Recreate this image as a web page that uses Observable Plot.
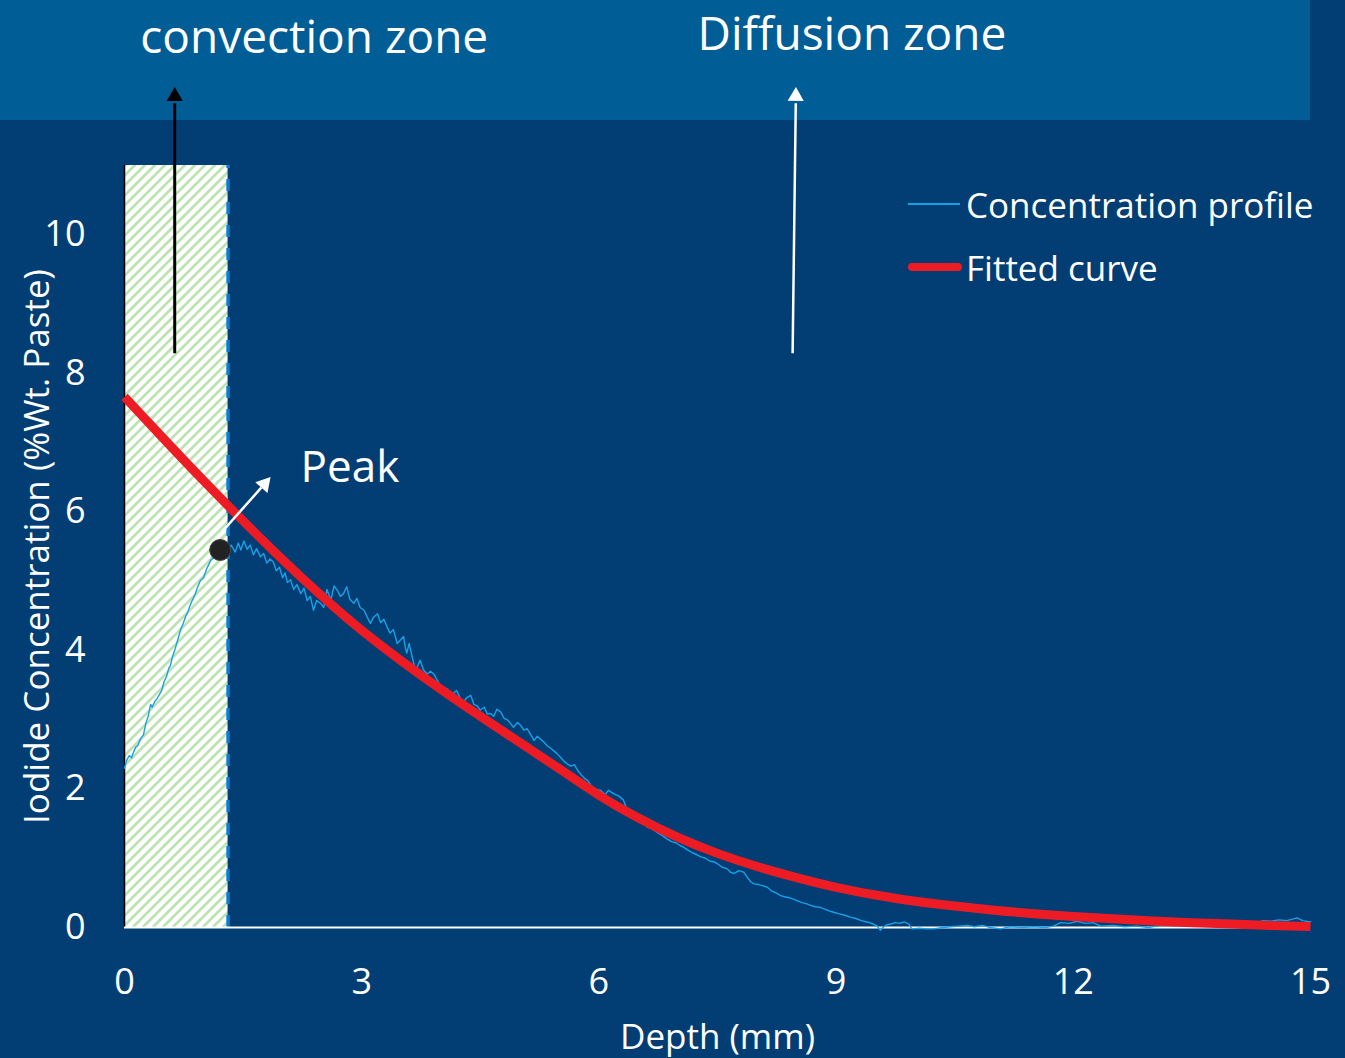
<!DOCTYPE html>
<html>
<head>
<meta charset="utf-8">
<script src="https://cdn.jsdelivr.net/npm/d3@7"></script>
<script src="https://cdn.jsdelivr.net/npm/@observablehq/plot@0.6"></script>
<style>
  html, body { margin: 0; padding: 0; background: #023e74; }
  #wrap { position: relative; width: 1345px; height: 1058px; overflow: hidden; font-family: "Open Sans", sans-serif; }
  #banner { position: absolute; left: 0; top: 0; width: 1310px; height: 120px; background: #005d96; }
  #chart { position: absolute; left: 0; top: 0; }
  .lg { position: absolute; left: 908px; height: 50px; display: flex; align-items: center; color: #fff; font-size: 35px; white-space: nowrap; }
  .sw { display: inline-block; }
  .sw.blue { width: 52px; height: 1.5px; background: #1aa0e6; margin-right: 6px; }
  .sw.red { width: 54px; height: 8px; border-radius: 4px; background: #ed1c24; margin-right: 4px; }
</style>
</head>
<body>
<div id="wrap">
  <div id="banner"></div>
  <div id="chart"></div>
  <div class="lg" style="top:179px"><span class="sw blue"></span><span>Concentration profile</span></div>
  <div class="lg" style="top:242px"><span class="sw red"></span><span>Fitted curve</span></div>
</div>
<script>
// ---------- data ----------
const xTicks = [0, 3, 6, 9, 12, 15];
const yTicks = [0, 2, 4, 6, 8, 10];

// measured concentration profile (depth mm, %wt paste)
const profileDepth = [
  0.00,0.03,0.06,0.09,0.11,0.14,0.17,0.20,0.24,0.27,0.30,0.33,0.35,0.38,0.41,0.44,0.47,0.50,0.53,0.56,
  0.58,0.61,0.64,0.66,0.68,0.71,0.74,0.77,0.80,0.83,0.86,0.89,0.92,0.96,1.00,1.04,1.09,1.13,1.17,1.21,
  1.26,1.31,1.35,1.40,1.44,1.47,1.51,1.55,1.59,1.63,1.67,1.72,1.76,1.80,1.84,1.88,1.92,1.96,2.00,2.03,
  2.06,2.10,2.14,2.18,2.23,2.27,2.31,2.35,2.39,2.43,2.48,2.52,2.56,2.61,2.65,2.69,2.73,2.77,2.81,2.85,
  2.90,2.94,2.98,3.03,3.07,3.11,3.15,3.20,3.24,3.28,3.32,3.36,3.40,3.45,3.49,3.53,3.55,3.57,3.60,3.64,
  3.68,3.71,3.74,3.78,3.83,3.87,3.91,3.95,4.00,4.04,4.08,4.12,4.16,4.20,4.25,4.29,4.33,4.38,4.42,4.46,
  4.50,4.55,4.59,4.63,4.67,4.71,4.76,4.80,4.84,4.88,4.92,4.97,5.01,5.05,5.09,5.14,5.18,5.22,5.26,5.30,
  5.35,5.40,5.47,5.52,5.56,5.60,5.65,5.69,5.73,5.78,5.82,5.86,5.90,5.95,6.02,6.08,6.12,6.19,6.25,6.31,
  6.36,6.42,6.47,6.53,6.58,6.61,6.68,6.74,6.80,6.86,6.92,6.98,7.03,7.07,7.12,7.18,7.24,7.29,7.35,7.40,
  7.45,7.50,7.56,7.62,7.66,7.71,7.77,7.83,7.88,7.92,7.96,8.02,8.08,8.13,8.18,8.24,8.30,8.36,8.41,8.46,
  8.52,8.57,8.63,8.68,8.74,8.80,8.85,8.91,8.97,9.03,9.10,9.18,9.25,9.32,9.39,9.47,9.52,9.56,9.60,9.65,
  9.69,9.75,9.80,9.86,9.92,9.96,10.05,10.15,10.23,10.35,10.45,10.55,10.66,10.75,10.85,10.95,11.08,11.20,11.35,11.50,
  11.65,11.75,11.84,11.95,12.05,12.15,12.25,12.35,12.50,12.65,12.80,12.95,13.10,13.27,13.40,13.55,13.70,13.85,14.00,14.10,
  14.20,14.30,14.40,14.50,14.60,14.70,14.83,14.90,15.00
];
const profileConc = [
  2.30,2.42,2.48,2.45,2.52,2.60,2.63,2.72,2.78,2.95,3.05,3.22,3.18,3.26,3.30,3.36,3.42,3.55,3.62,3.74,
  3.78,3.92,4.02,4.10,4.18,4.30,4.38,4.48,4.55,4.65,4.73,4.80,4.90,5.01,5.05,5.18,5.30,5.34,5.40,5.45,
  5.48,5.40,5.52,5.42,5.55,5.45,5.58,5.46,5.52,5.38,5.47,5.35,5.40,5.26,5.32,5.28,5.15,5.20,5.05,5.12,
  4.98,5.02,4.88,4.95,4.82,4.90,4.72,4.78,4.58,4.72,4.68,4.62,4.88,4.73,4.93,4.87,4.78,4.82,4.92,4.74,
  4.68,4.75,4.62,4.58,4.48,4.39,4.48,4.53,4.40,4.45,4.34,4.25,4.30,4.10,4.15,4.20,4.05,3.96,4.10,3.90,
  3.71,3.78,3.86,3.72,3.66,3.70,3.66,3.58,3.48,3.38,3.45,3.40,3.38,3.42,3.30,3.26,3.32,3.35,3.22,3.20,
  3.14,3.18,3.08,3.09,3.05,3.15,3.11,3.02,3.00,2.95,2.89,2.96,2.92,2.85,2.87,2.78,2.70,2.76,2.72,2.68,
  2.62,2.58,2.51,2.45,2.40,2.36,2.33,2.35,2.27,2.20,2.15,2.12,2.05,2.00,1.98,1.92,1.98,1.93,1.90,1.84,
  1.69,1.66,1.62,1.62,1.55,1.45,1.42,1.37,1.33,1.28,1.24,1.22,1.18,1.16,1.12,1.08,1.05,1.02,1.00,0.96,
  0.95,0.92,0.87,0.85,0.80,0.78,0.82,0.80,0.72,0.66,0.63,0.62,0.60,0.58,0.53,0.50,0.46,0.44,0.43,0.41,
  0.38,0.36,0.34,0.32,0.30,0.29,0.27,0.24,0.22,0.20,0.18,0.15,0.13,0.10,0.08,0.05,0.02,-0.04,0.01,0.04,
  0.05,0.07,0.06,0.08,0.05,-0.02,-0.01,-0.02,-0.02,0.00,0.01,0.02,0.03,0.01,0.03,0.00,-0.02,0.01,0.00,0.01,
  0.00,0.02,0.07,0.06,0.09,0.06,0.07,0.02,0.03,0.01,0.02,0.00,0.03,0.11,0.06,0.05,0.03,0.02,0.05,0.07,
  0.04,0.06,0.10,0.09,0.11,0.10,0.14,0.10,0.08
];

// fitted curve (depth mm, %wt paste)
const fitDepth = [0,0.5,1,1.5,2,2.5,3,3.5,4,4.5,5,5.5,6,6.5,7,7.5,8,8.5,9,9.5,10,10.5,11,11.5,12,12.5,13,13.5,14,14.5,15];
const fitConc  = [7.66,7.05,6.45,5.87,5.31,4.78,4.29,3.85,3.44,3.05,2.67,2.29,1.91,1.58,1.30,1.07,0.88,0.72,0.58,0.47,0.38,0.31,0.25,0.20,0.16,0.125,0.095,0.07,0.05,0.03,0.015];

// convection zone extent (mm) and box top
const convectionZone = [{start: 0, end: 1.31, top: 11}];

// peak point
const peak = [{depth: 1.21, conc: 5.45}];

// annotation arrows (data units)
const arrowLines = [
  {name: "convection", x1: 0.635, y1: 8.29, x2: 0.635, y2: 11.9, color: "black", w: 3},
  {name: "diffusion",  x1: 8.45,  y1: 8.29, x2: 8.49,  y2: 11.9, color: "white", w: 2.5},
  {name: "peak",       x1: 1.24,  y1: 5.72, x2: 1.73,  y2: 6.35, color: "white", w: 2.5}
];
const arrowHeads = [
  {x: 0.635, y: 12.0,  rotate: 0,  color: "black"},
  {x: 8.49,  y: 12.0,  rotate: 1,  color: "white"},
  {x: 1.77,  y: 6.40,  rotate: 41, color: "white"}
];

// text annotations
const zoneLabels = [
  {text: "convection zone", x: 2.40, y: 12.84},
  {text: "Diffusion zone",  x: 9.20, y: 12.88}
];
const peakLabel = [{text: "Peak", x: 2.226, y: 6.63}];

// ---------- build ----------
const profile = profileDepth.map((d, i) => ({depth: d, conc: profileConc[i]}));
const fitted = fitDepth.map((d, i) => ({depth: d, conc: fitConc[i]}));

const plot = Plot.plot({
  width: 1345,
  height: 1058,
  marginLeft: 124,
  marginRight: 35,
  marginTop: 165,
  marginBottom: 131,
  style: {background: "transparent", color: "white", fontFamily: "'Open Sans', sans-serif", overflow: "visible"},
  x: {domain: [0, 15]},
  y: {domain: [0, 11]},
  marks: [
    Plot.rect(convectionZone, {x1: "start", x2: "end", y1: 0, y2: "top", fill: "url(#hatch)"}),
    Plot.ruleX(convectionZone, {x: "start", y1: 0, y2: "top", stroke: "black", strokeWidth: 1.5}),
    Plot.ruleX(convectionZone, {x: "end", y1: 0, y2: "top", stroke: "#0b7dd1", strokeWidth: 3.5, strokeDasharray: "12,11"}),
    Plot.ruleY([0], {x1: 0, x2: 15, stroke: "white", strokeWidth: 2}),
    Plot.axisX({ticks: xTicks, tickSize: 0, tickPadding: 41, fontSize: 36, label: null}),
    Plot.axisY({ticks: yTicks, tickSize: 0, tickPadding: 39, fontSize: 36, label: null}),
    Plot.line(profile, {x: "depth", y: "conc", stroke: "#1aa0e6", strokeWidth: 1.4}),
    Plot.line(fitted, {x: "depth", y: "conc", stroke: "#ed1c24", strokeWidth: 9, curve: "natural", strokeLinecap: "butt"}),
    Plot.link(arrowLines, {x1: "x1", y1: "y1", x2: "x2", y2: "y2", stroke: "color", strokeWidth: "w"}),
    Plot.dot(arrowHeads, {x: "x", y: "y", symbol: "triangle", r: 6, fill: "color", stroke: "none", rotate: "rotate"}),
    Plot.dot(peak, {x: "depth", y: "conc", r: 10.5, fill: "#222", stroke: "#444", strokeWidth: 1}),
    Plot.text(peakLabel, {x: "x", y: "y", text: "text", textAnchor: "start", fontSize: 44, fill: "white"}),
    Plot.text(zoneLabels, {x: "x", y: "y", text: "text", fontSize: 46, fill: "white"}),
    Plot.text(["Depth (mm)"], {frameAnchor: "bottom", lineAnchor: "middle", dy: 110, fontSize: 35, fill: "white"}),
    Plot.text(["Iodide Concentration (%Wt. Paste)"], {frameAnchor: "left", textAnchor: "middle", lineAnchor: "middle", rotate: -90, dx: -87, fontSize: 35, fill: "white"})
  ]
});

d3.select(plot).insert("defs", ":first-child").html(
  `<pattern id="hatch" patternUnits="userSpaceOnUse" width="10" height="10">
     <rect width="10" height="10" fill="white"/>
     <path d="M-2.5,2.5 l5,-5 M0,10 l10,-10 M7.5,12.5 l5,-5" stroke="#bde3b5" stroke-width="2.8"/>
   </pattern>`
);

document.getElementById("chart").appendChild(plot);
</script>
</body>
</html>
